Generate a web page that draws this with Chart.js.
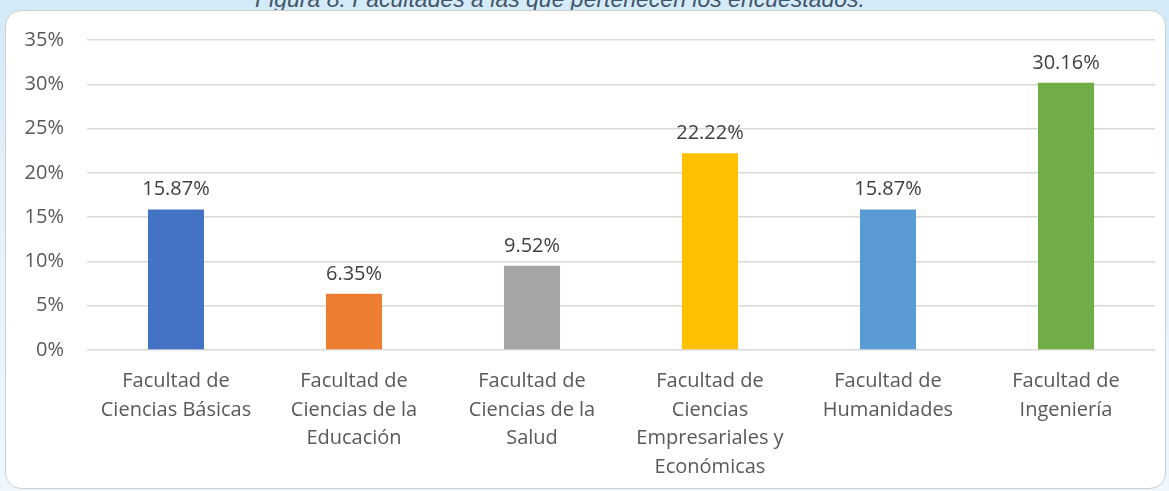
<!DOCTYPE html>
<html>
<head>
<meta charset="utf-8">
<script src="https://cdn.jsdelivr.net/npm/chart.js@4/dist/chart.umd.min.js"></script>
<style>
  html, body { margin: 0; padding: 0; }
  body {
    width: 1169px; height: 491px; overflow: hidden; position: relative;
    background: linear-gradient(to bottom, #d3eaf8 0%, #e4f2fb 40%, #eef7fd 100%);
  }
  #title {
    position: absolute; left: 0; top: -12px; width: 1120px;
    text-align: center; font: italic 23px "Liberation Sans", Arial, sans-serif;
    line-height: 22px; color: #44546a; white-space: nowrap;
  }
  #box {
    position: absolute; left: 5px; top: 10px; width: 1159px; height: 477px;
    background: #fff; border: 1px solid #cfcfcf; border-radius: 16px;
  }
  #graph { position: absolute; left: 0; top: 0; }
</style>
</head>
<body>
<div id="title">Figura 8. Facultades a las que pertenecen los encuestados.</div>
<div id="box"></div>
<canvas id="graph" width="1169" height="491"></canvas>
<script>
    const categories = [
        ['Facultad de', 'Ciencias Básicas'],
        ['Facultad de', 'Ciencias de la', 'Educación'],
        ['Facultad de', 'Ciencias de la', 'Salud'],
        ['Facultad de', 'Ciencias', 'Empresariales y', 'Económicas'],
        ['Facultad de', 'Humanidades'],
        ['Facultad de', 'Ingeniería']
    ];
    const percentages = [15.87, 6.35, 9.52, 22.22, 15.87, 30.16];
    const barColors = ['#4472c4', '#ed7d31', '#a5a5a5', '#ffc000', '#5b9bd5', '#70ad47'];
    const yTicksMax = 35;
    const yTicksStep = 5;

    // draws the value above each bar
    const valueLabels = {
        id: 'valueLabels',
        afterDatasetsDraw(chart) {
            const ctx = chart.ctx;
            const meta = chart.getDatasetMeta(0);
            ctx.save();
            ctx.font = '20px "Open Sans", sans-serif';
            ctx.fillStyle = '#404040';
            ctx.textAlign = 'center';
            ctx.textBaseline = 'alphabetic';
            meta.data.forEach(function (bar, i) {
                ctx.fillText(percentages[i].toFixed(2) + '%', bar.x, bar.y - 14);
            });
            ctx.restore();
        }
    };

    const chart = new Chart(document.getElementById('graph').getContext('2d'), {
        type: 'bar',
        data: {
            labels: categories,
            datasets: [{
                data: percentages,
                backgroundColor: barColors,
                borderWidth: 0,
                barPercentage: 0.315,
                categoryPercentage: 1
            }]
        },
        options: {
            responsive: false,
            animation: false,
            devicePixelRatio: 1,
            layout: { padding: { top: 40, right: 14, left: 0, bottom: 0 } },
            plugins: {
                legend: { display: false },
                tooltip: { enabled: false }
            },
            scales: {
                x: {
                    grid: { display: false, drawTicks: false },
                    border: { display: false },
                    ticks: {
                        color: '#595959',
                        padding: 17,
                        maxRotation: 0,
                        autoSkip: false,
                        font: { family: 'Open Sans', size: 20, lineHeight: 1.43 }
                    },
                    afterFit: function (s) { s.height = 141; }
                },
                y: {
                    min: 0,
                    max: yTicksMax,
                    grid: { color: '#d9d9d9', lineWidth: 1.5, drawTicks: false },
                    border: { display: false },
                    ticks: {
                        stepSize: yTicksStep,
                        color: '#595959',
                        padding: 23,
                        font: { family: 'Open Sans', size: 20 },
                        callback: function (v) { return v + '%'; }
                    },
                    afterFit: function (s) { s.width = 87; }
                }
            }
        },
        plugins: [valueLabels]
    });
</script>
</body>
</html>
